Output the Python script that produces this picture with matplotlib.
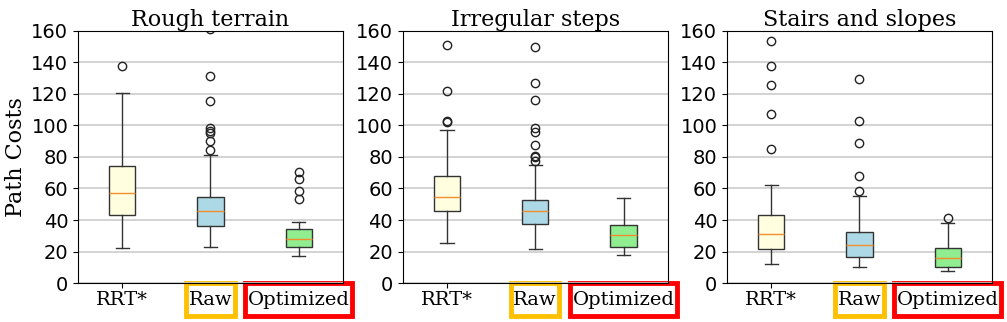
import matplotlib
matplotlib.use("Agg")
import matplotlib.pyplot as plt
from matplotlib.path import Path

titles = ["Rough terrain", "Irregular steps", "Stairs and slopes"]
methods = ["RRT*", "Raw", "Optimized"]
box_colors = ["lightyellow", "lightblue", "lightgreen"]
label_frames = [None, "#FFC000", "#FF0000"]

# per panel, per method: [whislo, q1, median, q3, whishi]
rough_stats = [
    [22.1, 43.3, 57.2, 74.5, 120.9],
    [22.6, 36.3, 45.6, 54.4, 81.2],
    [17.1, 22.8, 27.8, 34.6, 39.0],
]
rough_fliers = [
    [138.0],
    [161.0, 131.6, 115.4, 98.1, 96.6, 95.5, 89.9, 84.4],
    [70.5, 66.0, 58.7, 53.4],
]
steps_stats = [
    [25.5, 45.4, 54.3, 67.8, 97.3],
    [21.7, 37.6, 45.4, 52.8, 74.9],
    [17.5, 22.8, 30.6, 36.7, 54.0],
]
steps_fliers = [
    [151.0, 121.6, 102.6, 102.0],
    [150.1, 126.7, 116.1, 98.6, 95.8, 87.4, 80.8, 79.8, 77.3],
    [],
]
stairs_stats = [
    [11.8, 21.3, 31.2, 43.1, 62.5],
    [10.1, 16.3, 23.9, 32.7, 55.1],
    [7.8, 10.3, 16.0, 22.2, 38.0],
]
stairs_fliers = [
    [153.5, 138.0, 125.4, 107.0, 84.9],
    [129.6, 102.6, 88.9, 68.2, 58.7],
    [41.0],
]

panels = [(rough_stats, rough_fliers), (steps_stats, steps_fliers), (stairs_stats, stairs_fliers)]
lefts = [0.0775, 0.400, 0.722]


def frame_box(x0, y0, width, height, mutation_size):
    # tall rectangle: little padding at the sides, more above and below
    px = 0.12 * mutation_size
    py = 0.38 * mutation_size
    x0, x1 = x0 - px, x0 + width + px
    y0, y1 = y0 - py, y0 + height + py
    return Path([(x0, y0), (x1, y0), (x1, y1), (x0, y1), (x0, y0)], closed=True)


fig = plt.figure(figsize=(10.07, 3.22), dpi=100)

for k, (stats, fliers) in enumerate(panels):
    ax = fig.add_axes([lefts[k], 0.121, 0.263, 0.783])
    bstats = []
    for m, (s, f) in enumerate(zip(stats, fliers)):
        bstats.append(dict(whislo=s[0], q1=s[1], med=s[2], q3=s[3], whishi=s[4],
                           fliers=f, label=methods[m]))
    bp = ax.bxp(bstats, patch_artist=True, widths=0.3,
                boxprops=dict(edgecolor="#333333", linewidth=1),
                whiskerprops=dict(color="#333333", linewidth=1),
                capprops=dict(color="#333333", linewidth=1),
                medianprops=dict(color="#F28E2B", linewidth=1),
                flierprops=dict(marker="o", markerfacecolor="none",
                                markeredgecolor="#222222", markersize=6))
    for patch, c in zip(bp["boxes"], box_colors):
        patch.set_facecolor(c)
    ax.set_ylim(0, 160)
    ax.set_yticks(range(0, 161, 20))
    ax.yaxis.grid(True, color="#cccccc", linewidth=1.2)
    ax.set_axisbelow(True)
    ax.tick_params(axis="y", labelsize=14)
    ax.tick_params(axis="x", labelsize=14, pad=2)
    for lab in ax.get_xticklabels():
        lab.set_fontfamily("DejaVu Serif")
    for lab, fc in zip(ax.get_xticklabels(), label_frames):
        if fc:
            lab.set_bbox(dict(boxstyle=frame_box, facecolor="white",
                              edgecolor=fc, linewidth=3.5))
    ax.set_title(titles[k], fontsize=16, family="DejaVu Serif", pad=3)
    if k == 0:
        ax.set_ylabel("Path Costs", fontsize=16, family="DejaVu Serif", labelpad=3)

fig.savefig("out.png", dpi=100)
